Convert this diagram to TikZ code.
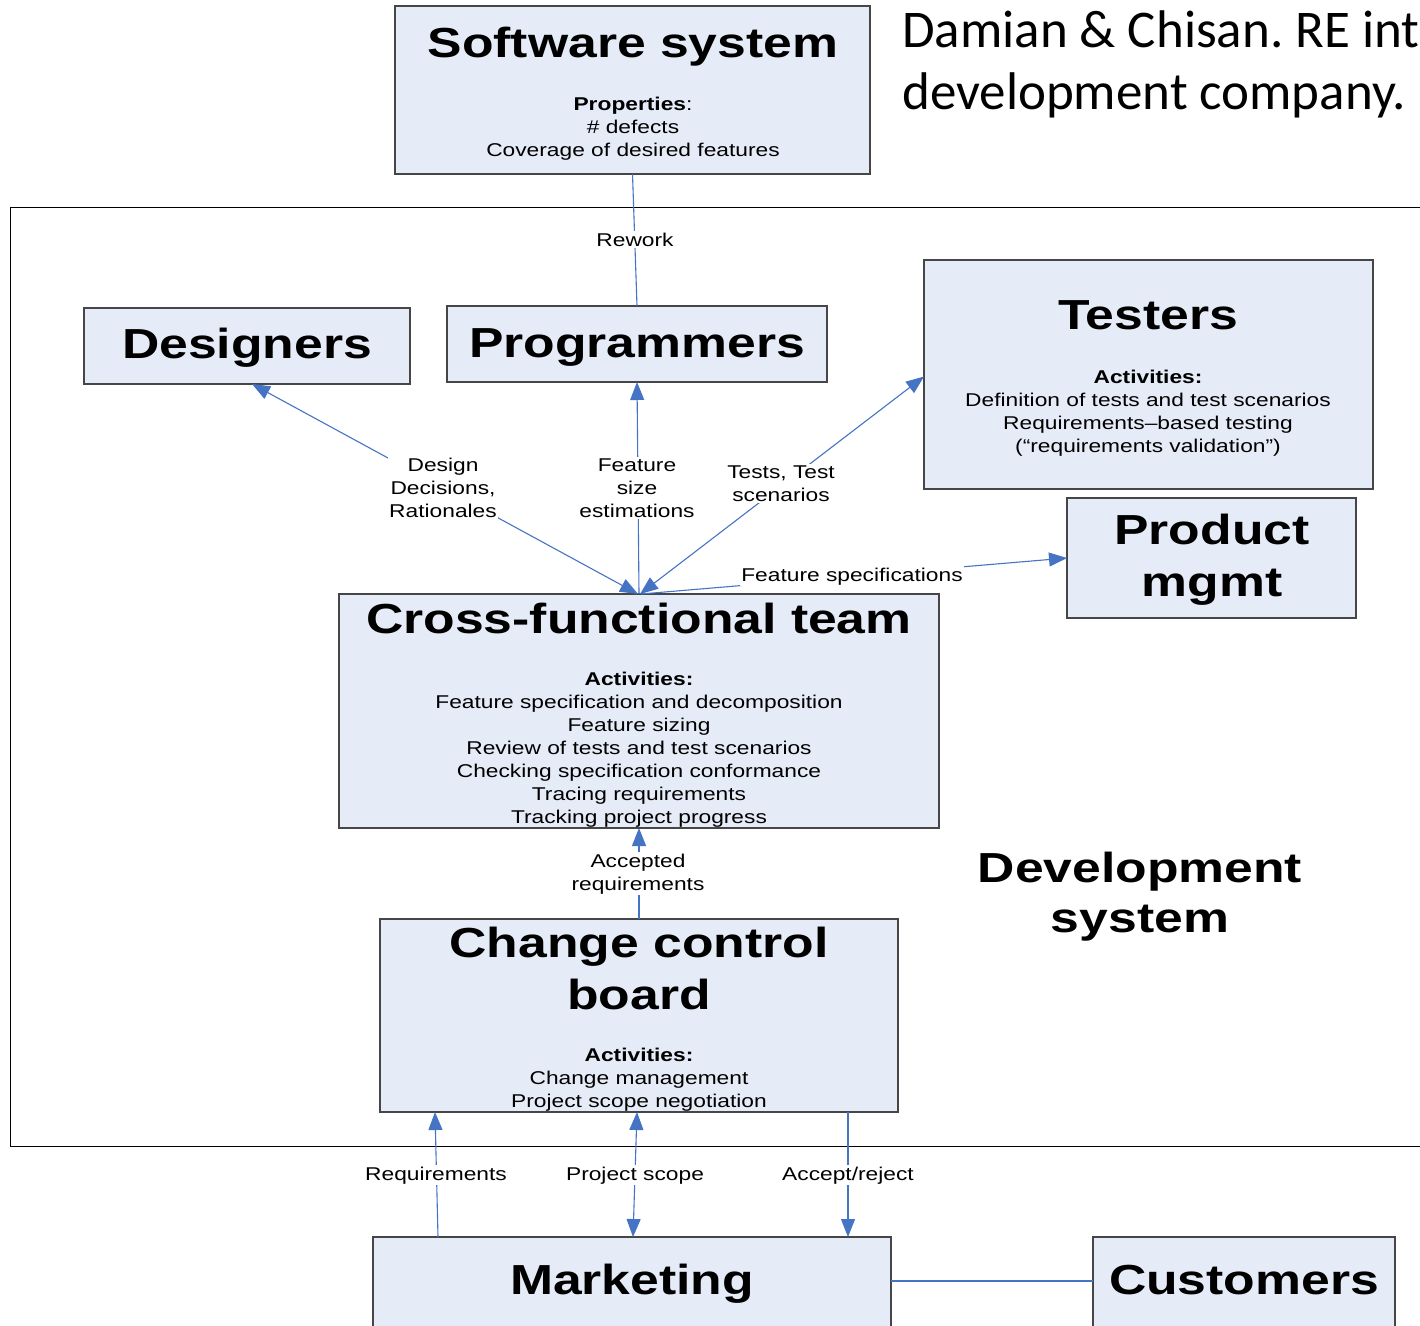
\documentclass[tikz,border=0pt]{standalone}
\usepackage{fontspec}
\usetikzlibrary{arrows.meta,calc}
\newfontfamily\bxfont{Liberation Sans}[FakeStretch=1.23]
\newfontfamily\calfont{Carlito}
\definecolor{boxfill}{RGB}{230,236,247}
\definecolor{boxline}{RGB}{70,70,70}
\definecolor{conn}{RGB}{70,116,196}
\frenchspacing
\tikzset{
  box/.style={draw=boxline, line width=1.1pt, fill=boxfill, inner sep=0pt, outer sep=0pt, anchor=north west},
  ttl/.style={font=\bxfont\bfseries\fontsize{42}{52}\selectfont, align=center, inner sep=0pt, anchor=base},
  sml/.style={font=\bxfont\fontsize{18.5}{23}\selectfont, align=center, inner sep=0pt, anchor=base},
  lbl/.style={font=\bxfont\fontsize{18.5}{23}\selectfont, align=center, inner sep=1.5pt, fill=white, anchor=base},
  cn/.style={draw=conn, line width=1.1pt},
  tip/.style={-{Triangle[length=18pt,width=14pt]}},
  tips/.style={{Triangle[length=18pt,width=14pt]}-{Triangle[length=18pt,width=14pt]}},
}
\begin{document}
\begin{tikzpicture}[x=1pt,y=-1pt]
\useasboundingbox (0,0) rectangle (1420,1325);
\clip (0,0) rectangle (1420,1325);
\fill[white] (0,0) rectangle (1420,1325);

% development system frame
\node[draw=black, line width=1pt, minimum width=1440, minimum height=939, inner sep=0pt, outer sep=0pt, anchor=north west] (devsys) at (10,207) {};

% note at top right
\node[font=\calfont\fontsize{53}{62}\selectfont, anchor=base west, inner sep=0pt] (note1) at (902,47) {Damian \& Chisan. RE int};
\node[font=\calfont\fontsize{53}{62}\selectfont, anchor=base west, inner sep=0pt] (note2) at (902,109) {development company.};

% boxes (multi-line nodes are placed by the baseline of their last line)
\node[box, minimum width=475, minimum height=168] (sw) at (395,6) {};
\node[ttl] (swT) at (633,57) {Software system};
\node[sml] (swP) at (633,156) {\textbf{Properties}:\\\# defects\\Coverage of desired features};

\node[box, minimum width=326, minimum height=76] (des) at (84,308) {};
\node[ttl] (desT) at (247,358) {Designers};

\node[box, minimum width=380, minimum height=76] (prog) at (447,306) {};
\node[ttl] (progT) at (637,357) {Programmers};

\node[box, minimum width=449, minimum height=229] (test) at (924,260) {};
\node[ttl] (testT) at (1148,329) {Testers};
\node[sml] (testP) at (1148,452) {\textbf{Activities:}\\Definition of tests and test scenarios\\Requirements–based testing\\(“requirements validation”)};

\node[box, minimum width=289, minimum height=120] (pm) at (1067,498) {};
\node[ttl] (pmT) at (1212,596) {Product\\mgmt};

\node[box, minimum width=600, minimum height=234] (cft) at (339,594) {};
\node[ttl] (cftT) at (639,633) {Cross-functional team};
\node[sml] (cftP) at (639,823) {\textbf{Activities:}\\Feature specification and decomposition\\Feature sizing\\Review of tests and test scenarios\\Checking specification conformance\\Tracing requirements\\Tracking project progress};

\node[box, minimum width=518, minimum height=193] (ccb) at (380,919) {};
\node[ttl] (ccbT) at (639,1009) {Change control\\board};
\node[sml] (ccbP) at (639,1107) {\textbf{Activities:}\\Change management\\Project scope negotiation};

\node[box, minimum width=518, minimum height=130] (mk) at (373,1237) {};
\node[ttl] (mkT) at (632,1294) {Marketing};

\node[box, minimum width=302, minimum height=130] (cust) at (1093,1237) {};
\node[ttl] (custT) at (1244,1294) {Customers};

\node[ttl, font=\bxfont\bfseries\fontsize{42}{50}\selectfont] (devT) at (1140,932) {Development\\system};

% connectors
\draw[cn] (sw.south) -- (prog.north);
\draw[cn, tips] ([xshift=5pt]des.south) -- ([xshift=-1pt]cft.north);
\draw[cn, tip] (cft.north) -- (prog.south);
\draw[cn, tips] ([xshift=1pt]cft.north) -- ([yshift=-2pt]test.west);
\draw[cn, tip] ([xshift=2pt]cft.north) -- (pm.west);
\draw[cn, tip] (ccb.north) -- (cft.south);
\draw[cn, tip] ([xshift=-194pt]mk.north) -- ([xshift=-204pt]ccb.south);
\draw[cn, tips] ([xshift=1pt]mk.north) -- ([xshift=-2pt]ccb.south);
\draw[cn, tip] ([xshift=209pt]ccb.south) -- ([xshift=216pt]mk.north);
\draw[cn] ([yshift=-44pt]mk.north east) -- ([yshift=-44pt]cust.north west);

% connector labels (multi-line: baseline of last line)
\node[lbl] (lRework) at (635,246) {Rework};
\node[lbl] (lDesign) at (443,517) {Design\\Decisions,\\Rationales};
\node[lbl] (lSize) at (637,517) {Feature\\size\\estimations};
\node[lbl] (lTests) at (781,501) {Tests, Test\\scenarios};
\node[lbl] (lSpec) at (852,581) {Feature specifications};
\node[lbl] (lAcc) at (638,890) {Accepted\\requirements};
\node[lbl] (lReq) at (436,1180) {Requirements};
\node[lbl] (lScope) at (635,1180) {Project scope};
\node[lbl] (lAR) at (848,1180) {Accept/reject};
\end{tikzpicture}
\end{document}
